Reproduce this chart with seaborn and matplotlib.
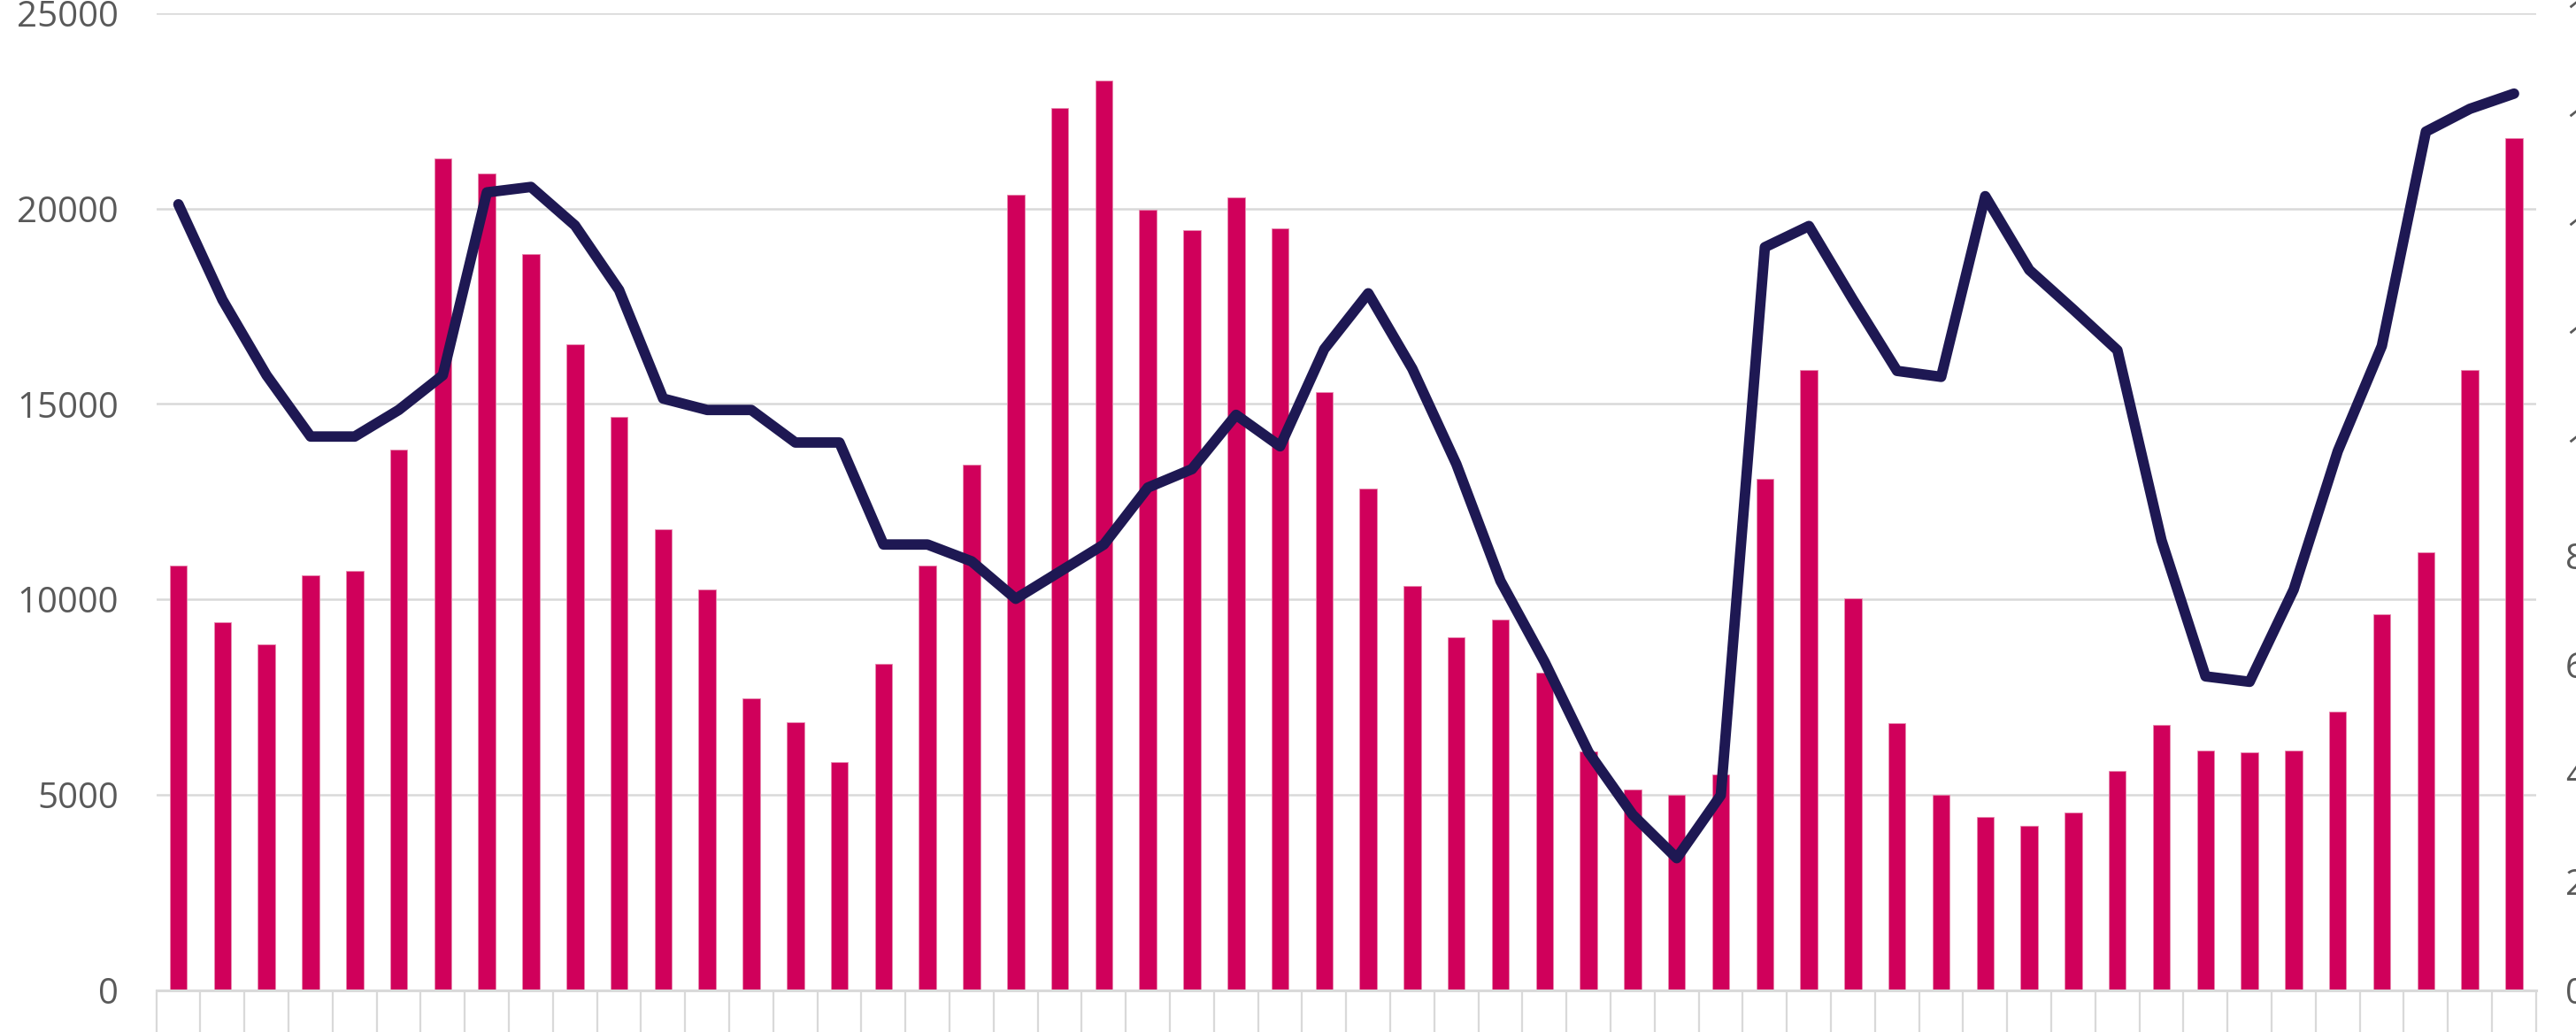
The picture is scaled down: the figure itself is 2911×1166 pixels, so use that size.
import numpy as np
import pandas as pd
import matplotlib
matplotlib.use("Agg")
import matplotlib.pyplot as plt
import seaborn as sns

# bar series (left axis)
bar_values = [10858, 9408, 8852, 10622, 10723, 13842, 21294, 20906, 18833, 16523,
              14668, 11785, 10251, 7469, 6862, 5834, 8346, 10875, 13437, 20350,
              22576, 23284, 19979, 19456, 20283, 19507, 15309, 12830, 10335, 9020,
              9475, 8127, 6103, 5125, 5007, 5513, 13083, 15865, 10015, 6828,
              5007, 4434, 4198, 4535, 5614, 6795, 6137, 6086, 6137, 7115,
              9610, 11195, 15865, 21817]

# line series (right axis)
line_values = [14.48, 12.72, 11.33, 10.20, 10.20, 10.69, 11.33, 14.70, 14.80, 14.09,
               12.90, 10.90, 10.69, 10.69, 10.09, 10.09, 8.21, 8.21, 7.90, 7.21,
               7.71, 8.21, 9.26, 9.60, 10.60, 10.02, 11.81, 12.84, 11.45, 9.69,
               7.54, 6.05, 4.38, 3.23, 2.43, 3.59, 13.69, 14.08, 12.72, 11.41,
               11.30, 14.63, 13.27, 12.54, 11.79, 8.29, 5.78, 5.68, 7.38, 9.93,
               11.87, 15.82, 16.24, 16.52]

left_ticks = [0, 5000, 10000, 15000, 20000, 25000]
right_ticks = [0, 2, 4, 6, 8, 10, 12, 14, 16, 18]

df = pd.DataFrame({"idx": np.arange(len(bar_values)),
                   "bars": bar_values,
                   "line": line_values})

sns.set_theme(style="white")
plt.rcParams["font.family"] = ["Open Sans", "DejaVu Sans"]

BAR = "#D0005B"
LINE = "#1E1853"
GRID = "#D9D9D9"
TXT = "#595959"

fig = plt.figure(figsize=(29.11, 11.66), dpi=100)
ax = fig.add_axes([0.0607, 0.0407, 0.9238, 0.9464])

sns.barplot(data=df, x="idx", y="bars", color=BAR, width=0.39,
            saturation=1, ax=ax, edgecolor="#E88AB0", linewidth=0.6)
ax.set_xlim(-0.5, len(bar_values) - 0.5)
ax.set_ylim(0, 25000)
ax.set_yticks(left_ticks)
ax.set_yticklabels([str(t) for t in left_ticks])
ax.yaxis.grid(True, color=GRID, linewidth=1.8)
ax.set_axisbelow(True)
ax.tick_params(axis="y", length=0, pad=31, labelsize=29, labelcolor=TXT)

# category separators below the axis
ax.set_xticks(np.arange(-0.5, len(bar_values), 1.0))
ax.set_xticklabels([])
ax.tick_params(axis="x", bottom=True, length=45, width=1.6, color=GRID,
               direction="out")
ax.set_xlabel("")
ax.set_ylabel("")
for s in ["top", "right", "left"]:
    ax.spines[s].set_visible(False)
ax.spines["bottom"].set_color(GRID)
ax.spines["bottom"].set_linewidth(2.2)

ax2 = ax.twinx()
sns.lineplot(data=df, x="idx", y="line", color=LINE, linewidth=8.5, ax=ax2,
             solid_joinstyle="round", solid_capstyle="round")
ax2.set_ylim(0, 18)
ax2.set_yticks(right_ticks)
ax2.set_yticklabels([str(t) for t in right_ticks])
ax2.tick_params(axis="y", right=False, length=0, pad=24, labelsize=29,
                labelcolor=TXT)
ax2.set_ylabel("")
ax2.set_xlabel("")
for s in ax2.spines.values():
    s.set_visible(False)
ax2.set_xlim(-0.5, len(bar_values) - 0.5)

fig.savefig("out.png", dpi=100)
